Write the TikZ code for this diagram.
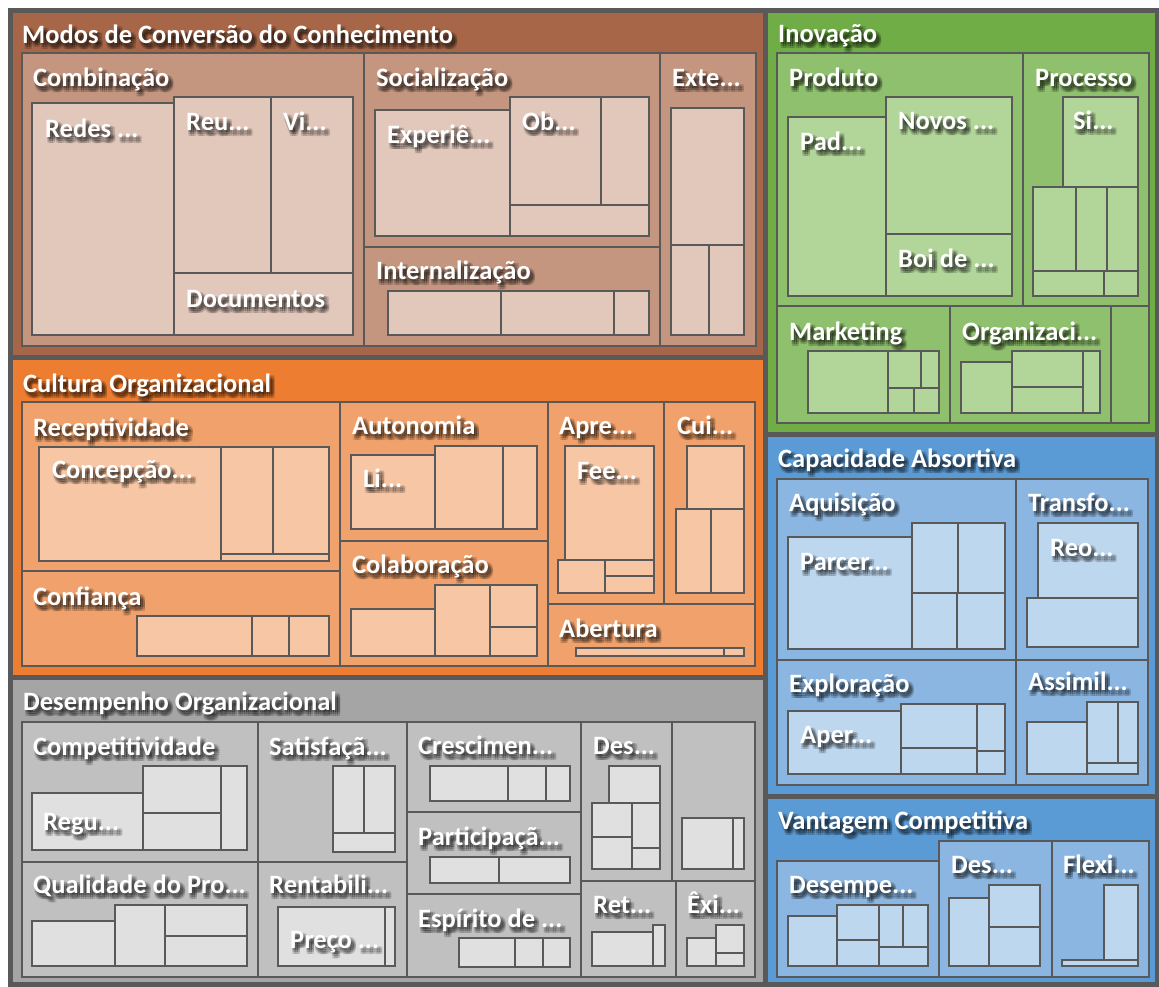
\documentclass[tikz,border=0pt]{standalone}
\usepackage{fontspec}
\setmainfont{Carlito}
\definecolor{edge}{RGB}{89,89,89}
\definecolor{brA}{RGB}{166,102,71}
\definecolor{brB}{RGB}{196,150,128}
\definecolor{brC}{RGB}{226,200,187}
\definecolor{orA}{RGB}{237,125,49}
\definecolor{orB}{RGB}{241,162,108}
\definecolor{orC}{RGB}{247,198,164}
\definecolor{grA}{RGB}{165,165,165}
\definecolor{grB}{RGB}{192,192,192}
\definecolor{grC}{RGB}{224,224,224}
\definecolor{gnA}{RGB}{112,173,71}
\definecolor{gnB}{RGB}{143,192,110}
\definecolor{gnC}{RGB}{178,214,153}
\definecolor{blA}{RGB}{91,155,213}
\definecolor{blB}{RGB}{139,182,225}
\definecolor{blC}{RGB}{189,215,238}
\tikzset{
  cell/.style={draw=edge, line width=2.4pt},
  frame/.style={draw=edge, line width=5pt},
  lbl/.style={anchor=base west, inner sep=0pt, text=white,
    font=\bfseries\fontsize{26.5}{30}\selectfont},
  lblsh/.style={lbl, text=black, opacity=0.14},
}
% label with a soft drop shadow: name, x, baseline y, text
\newcommand\lbl[4]{%
  \foreach \dx/\dy [count=\i] in {1/2,3/2,5/2,1/4,3/4,5/4,1/6,3/6,5/6}
    {\node[lblsh, xshift=\dx pt, yshift=-\dy pt] (#1-sh\i) at (#2,#3) {#4};}
  \node[lbl] (#1) at (#2,#3) {#4};}
\newcommand\cells[2]{%
  \foreach \a/\b/\c/\d in {#2}
    {\draw[cell, fill=#1] (\a,\b) rectangle (\c,\d);}}
\begin{document}
\begin{tikzpicture}[x=1pt,y=-1pt]
\useasboundingbox (0,0) rectangle (1159,986);
\fill[white] (0,0) rectangle (1159,986);
% top-level areas
\fill[brA] (10,10) rectangle (765,357);
\fill[orA] (10,357) rectangle (765,677);
\fill[grA] (10,677) rectangle (765,984);
\fill[gnA] (765,10) rectangle (1157,434);
\fill[blA] (765,434) rectangle (1157,796);
\fill[blA] (765,796) rectangle (1157,984);

% Modos de Conversão do Conhecimento
\cells{brB}{22/53/364/346, 364/53/660/247, 364/247/660/346, 660/53/756/346}
\cells{brC}{32/103/174/335, 174/97/271/273, 271/97/353/273, 174/273/353/335,
  375/110/510/236, 510/97/601/205, 601/97/649/205, 510/205/649/236,
  388/291/501/335, 501/291/614/335, 614/291/649/335,
  671/108/744/245, 671/245/709/335, 709/245/744/335}

% Inovação
\cells{gnB}{777/53/1023/306, 1023/53/1149/306, 777/306/950/423, 950/306/1111/423, 1111/306/1149/423}
\cells{gnC}{788/117/886/296, 886/97/1012/234, 886/234/1012/296,
  1063/97/1138/187, 1033/187/1076/271, 1076/187/1107/271, 1107/187/1138/271,
  1033/271/1104/296, 1104/271/1138/296,
  808/351/888/413, 888/351/921/388, 921/351/939/388, 888/388/914/413, 914/388/939/413,
  961/362/1012/413, 1012/351/1083/387, 1012/387/1083/413, 1083/351/1100/413}

% Cultura Organizacional
\cells{orB}{22/402/340/571, 22/571/340/666, 340/402/548/541, 340/541/548/666,
  548/402/664/604, 664/402/755/604, 548/604/755/666}
\cells{orC}{39/447/221/561, 221/447/273/554, 273/447/329/554, 221/554/329/561,
  137/616/252/656, 252/616/289/656, 289/616/329/656,
  351/455/435/529, 435/446/503/529, 503/446/537/529,
  351/609/435/656, 435/585/490/656, 490/585/537/627, 490/627/537/656,
  565/446/654/560, 558/560/605/593, 605/560/654/576, 605/576/654/593,
  687/446/744/509, 676/509/711/593, 711/509/744/593,
  576/648/724/656, 724/648/744/656}

% Desempenho Organizacional
\cells{grB}{22/722/258/862, 258/722/407/862, 22/862/258/977, 258/862/407/977,
  407/722/581/812, 407/812/581/894, 407/894/581/977,
  581/722/672/881, 672/722/755/881, 581/881/676/977, 676/881/755/977}
\cells{grC}{32/793/143/850, 143/766/221/813, 143/813/221/850, 221/766/247/850,
  333/766/364/833, 364/766/395/833, 333/833/395/852,
  32/921/115/966, 115/905/165/966, 165/905/247/936, 165/936/247/966,
  278/907/385/966, 385/907/395/966,
  430/766/508/801, 508/766/546/801, 546/766/570/801,
  430/857/499/883, 499/857/570/883,
  459/938/515/967, 515/938/543/967, 543/938/570/967,
  609/766/660/803, 592/803/632/837, 632/803/660/848, 592/837/632/869, 632/848/660/869,
  682/818/733/869, 733/818/744/869,
  592/932/653/966, 653/925/665/966,
  687/938/716/966, 716/925/744/953, 716/953/744/966}

% Capacidade Absortiva
\cells{blB}{777/479/1016/660, 1016/479/1148/660, 777/660/1016/785, 1016/660/1148/785}
\cells{blC}{788/537/912/649, 912/523/958/593, 958/523/1005/593, 912/593/957/649, 957/593/1005/649,
  1038/523/1138/598, 1027/598/1138/647,
  788/711/901/774, 901/704/977/748, 901/748/977/774, 977/704/1005/751, 977/751/1005/774,
  1027/722/1087/774, 1087/702/1118/763, 1118/702/1138/763, 1087/763/1138/774}

% Vantagem Competitiva
\cells{blB}{777/861/939/977, 939/841/1052/977, 1052/841/1149/977}
\cells{blC}{788/916/837/966, 837/905/879/940, 837/940/879/966, 879/905/903/947, 903/905/928/947, 879/947/928/966,
  949/898/989/966, 989/885/1040/927, 989/927/1040/966,
  1104/885/1138/960, 1062/960/1138/966}

% top-level borders
\draw[frame] (10,10) rectangle (765,357);
\draw[frame] (10,357) rectangle (765,677);
\draw[frame] (10,677) rectangle (765,984);
\draw[frame] (765,10) rectangle (1157,434);
\draw[frame] (765,434) rectangle (1157,796);
\draw[frame] (765,796) rectangle (1157,984);

% labels
\lbl{modos}{22}{43}{Modos de Conversão do Conhecimento}
\lbl{comb}{33}{86}{Combinação}
\lbl{redes}{45}{137}{Redes ...}
\lbl{reu}{186}{130}{Reu...}
\lbl{vi}{283}{130}{Vi...}
\lbl{docs}{186}{307}{Documentos}
\lbl{soc}{376}{86}{Socialização}
\lbl{exper}{387}{143}{Experiê...}
\lbl{ob}{522}{130}{Ob...}
\lbl{intern}{376}{279}{Internalização}
\lbl{exte}{672}{86}{Exte...}

\lbl{inov}{778}{42}{Inovação}
\lbl{prod}{789}{86}{Produto}
\lbl{pad}{800}{150}{Pad...}
\lbl{novos}{898}{129}{Novos ...}
\lbl{boi}{898}{267}{Boi de ...}
\lbl{proc}{1035}{86}{Processo}
\lbl{si}{1073}{129}{Si...}
\lbl{mkt}{789}{340}{Marketing}
\lbl{org}{962}{340}{Organizaci...}

\lbl{cult}{23}{392}{Cultura Organizacional}
\lbl{recep}{33}{436}{Receptividade}
\lbl{conc}{52}{478}{Concepção...}
\lbl{conf}{33}{605}{Confiança}
\lbl{auto}{352}{434}{Autonomia}
\lbl{li}{363}{487}{Li...}
\lbl{colab}{352}{573}{Colaboração}
\lbl{apre}{559}{434}{Apre...}
\lbl{fee}{577}{479}{Fee...}
\lbl{cui}{677}{434}{Cui...}
\lbl{aber}{559}{637}{Abertura}

\lbl{capac}{778}{467}{Capacidade Absortiva}
\lbl{aquis}{789}{511}{Aquisição}
\lbl{parc}{800}{570}{Parcer...}
\lbl{transf}{1028}{511}{Transfo...}
\lbl{reo}{1050}{556}{Reo...}
\lbl{explo}{789}{692}{Exploração}
\lbl{aper}{800}{743}{Aper...}
\lbl{assim}{1028}{690}{Assimil...}

\lbl{desemp}{23}{710}{Desempenho Organizacional}
\lbl{compet}{33}{755}{Competitividade}
\lbl{regu}{43}{830}{Regu...}
\lbl{satis}{269}{755}{Satisfaçã...}
\lbl{qual}{33}{893}{Qualidade do Pro...}
\lbl{rent}{269}{893}{Rentabili...}
\lbl{preco}{290}{948}{Preço ...}
\lbl{cresc}{418}{754}{Crescimen...}
\lbl{part}{418}{845}{Participaçã...}
\lbl{espir}{418}{927}{Espírito de ...}
\lbl{desA}{593}{754}{Des...}
\lbl{ret}{593}{913}{Ret...}
\lbl{exi}{687}{913}{Êxi...}

\lbl{vant}{778}{829}{Vantagem Competitiva}
\lbl{dsmp}{789}{893}{Desempe...}
\lbl{desB}{951}{873}{Des...}
\lbl{flexi}{1063}{873}{Flexi...}
\end{tikzpicture}
\end{document}
